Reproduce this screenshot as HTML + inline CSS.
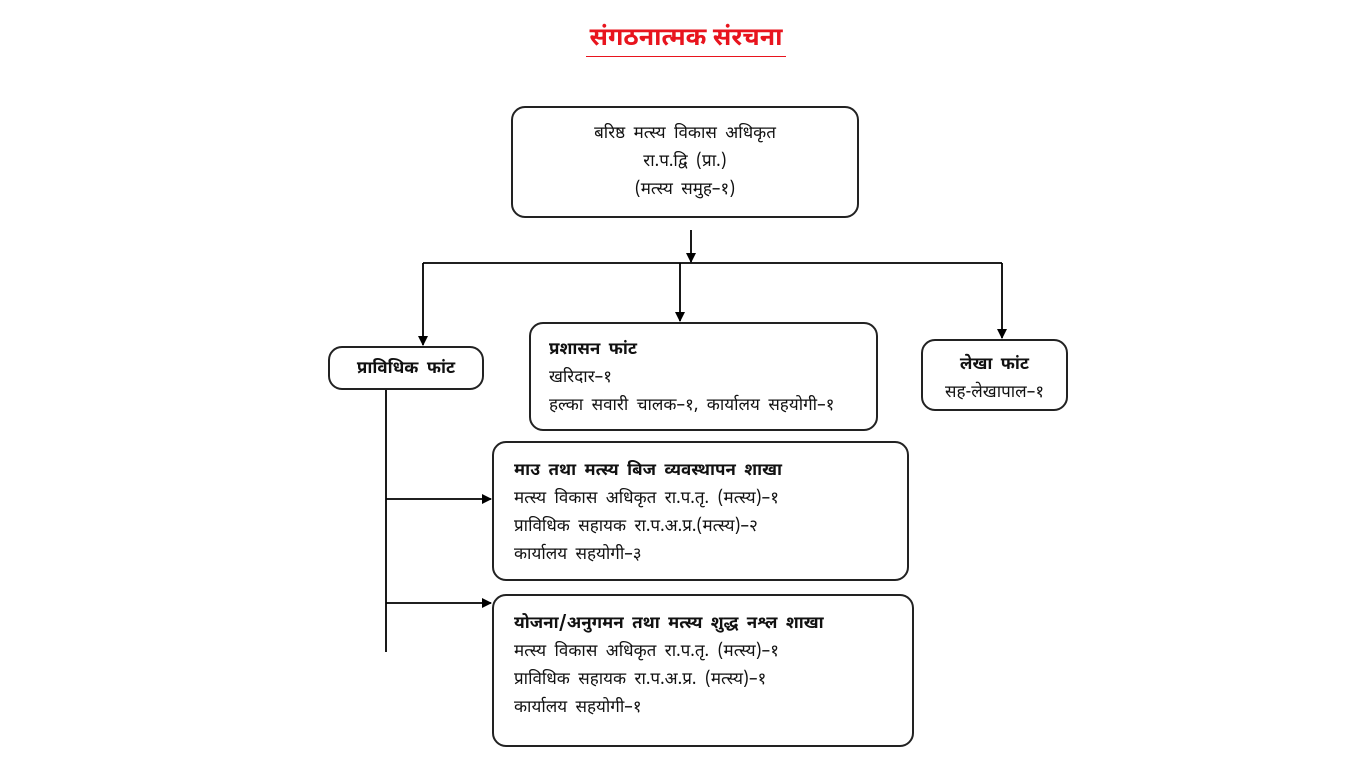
<!DOCTYPE html>
<html><head><meta charset="utf-8"><style>
html,body{margin:0;padding:0;background:#fff;width:1366px;height:768px;overflow:hidden}
body{position:relative;font-family:"Noto Sans Devanagari","Lohit Devanagari","Liberation Sans",sans-serif;color:#111}
.box{position:absolute;border:2px solid #222;border-radius:14px;box-sizing:border-box;font-size:17px;line-height:28px;word-spacing:4px;white-space:nowrap}
.c{text-align:center}
b{font-weight:bold}
.t{position:absolute;left:586px;width:200px;top:24px;text-align:center;color:#e8141e;font-weight:bold;font-size:25px;border-bottom:1.5px solid #e8141e;line-height:32px}
svg{position:absolute;left:0;top:0}
</style></head><body>
<div class="t">संगठनात्मक संरचना</div>
<svg width="1366" height="768">
<defs><marker id="a" markerWidth="10" markerHeight="10" refX="9" refY="5" orient="auto" markerUnits="userSpaceOnUse"><path d="M0,0 L10,5 L0,10 z" fill="#000"/></marker></defs>
<g stroke="#000" stroke-width="1.8" fill="none">
<line x1="691" y1="230" x2="691" y2="262" marker-end="url(#a)"/>
<line x1="423" y1="263" x2="1002" y2="263"/>
<line x1="423" y1="263" x2="423" y2="345" marker-end="url(#a)"/>
<line x1="680" y1="263" x2="680" y2="321" marker-end="url(#a)"/>
<line x1="1002" y1="263" x2="1002" y2="338" marker-end="url(#a)"/>
<line x1="386" y1="389" x2="386" y2="652"/>
<line x1="386" y1="499" x2="491" y2="499" marker-end="url(#a)"/>
<line x1="386" y1="603" x2="491" y2="603" marker-end="url(#a)"/>
</g></svg>
<div class="box c" style="left:511px;top:106px;width:348px;height:112px;padding-top:12px">बरिष्ठ मत्स्य विकास अधिकृत<br>रा.प.द्वि (प्रा.)<br>(मत्स्य समुह–१)</div>
<div class="box c" style="left:328px;top:346px;width:156px;height:44px;padding-top:7px"><b>प्राविधिक फांट</b></div>
<div class="box" style="left:529px;top:322px;width:349px;height:109px;padding:12px 0 0 18px">
<b>प्रशासन फांट</b><br>खरिदार–१<br>हल्का सवारी चालक–१, कार्यालय सहयोगी–१</div>
<div class="box c" style="left:921px;top:339px;width:147px;height:72px;padding-top:10px"><b>लेखा फांट</b><br>सह-लेखापाल–१</div>
<div class="box" style="left:492px;top:441px;width:417px;height:140px;padding:14px 0 0 20px">
<b>माउ तथा मत्स्य बिज व्यवस्थापन शाखा</b><br>मत्स्य विकास अधिकृत रा.प.तृ. (मत्स्य)–१<br>प्राविधिक सहायक रा.प.अ.प्र.(मत्स्य)–२<br>कार्यालय सहयोगी–३</div>
<div class="box" style="left:492px;top:594px;width:422px;height:153px;padding:14px 0 0 20px">
<b>योजना/अनुगमन तथा मत्स्य शुद्ध नश्ल शाखा</b><br>मत्स्य विकास अधिकृत रा.प.तृ. (मत्स्य)–१<br>प्राविधिक सहायक रा.प.अ.प्र. (मत्स्य)–१<br>कार्यालय सहयोगी–१</div>
</body></html>
